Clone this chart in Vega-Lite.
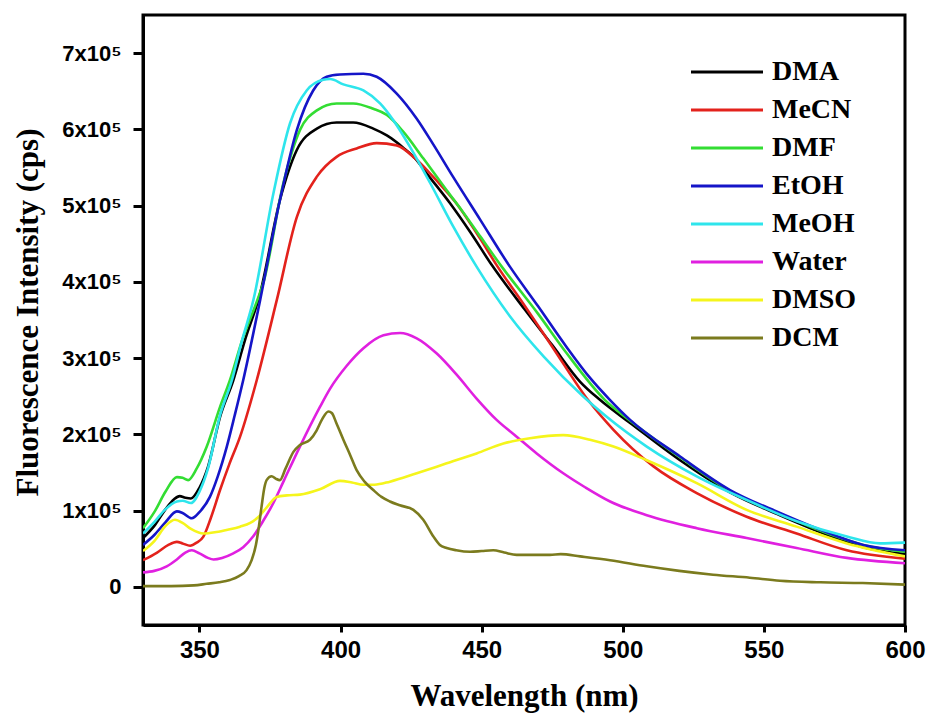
{
  "$schema": "https://vega.github.io/schema/vega-lite/v6.json",
  "width": 762,
  "height": 610,
  "autosize": "none",
  "padding": {"left": 143, "top": 15, "right": 22, "bottom": 88},
  "background": "white",
  "data": {"values": [
    {"s":"DMA","w":330,"v":64000},{"s":"DMA","w":334,"v":80000},{"s":"DMA","w":338,"v":102000},{"s":"DMA","w":341,"v":115000},{"s":"DMA","w":343,"v":119000},{"s":"DMA","w":345,"v":117000},{"s":"DMA","w":347,"v":116000},{"s":"DMA","w":350,"v":130000},{"s":"DMA","w":353,"v":157000},{"s":"DMA","w":357.3,"v":223000},{"s":"DMA","w":362,"v":271000},{"s":"DMA","w":366,"v":322000},{"s":"DMA","w":371.5,"v":385000},{"s":"DMA","w":378.5,"v":507000},{"s":"DMA","w":384.5,"v":573000},{"s":"DMA","w":391.6,"v":601000},{"s":"DMA","w":398.6,"v":609000},{"s":"DMA","w":404.5,"v":609000},{"s":"DMA","w":411.6,"v":601000},{"s":"DMA","w":416.4,"v":592000},{"s":"DMA","w":422.2,"v":576000},{"s":"DMA","w":426.4,"v":562000},{"s":"DMA","w":431,"v":540000},{"s":"DMA","w":438.8,"v":503000},{"s":"DMA","w":446,"v":465000},{"s":"DMA","w":453.6,"v":422000},{"s":"DMA","w":465,"v":365000},{"s":"DMA","w":475,"v":317000},{"s":"DMA","w":484.9,"v":269000},{"s":"DMA","w":492,"v":245000},{"s":"DMA","w":502.6,"v":215000},{"s":"DMA","w":520.3,"v":166000},{"s":"DMA","w":538,"v":124000},{"s":"DMA","w":555.7,"v":94000},{"s":"DMA","w":573.4,"v":67000},{"s":"DMA","w":585.2,"v":52000},{"s":"DMA","w":600,"v":43000},

    {"s":"MeCN","w":330,"v":35000},{"s":"MeCN","w":335,"v":45000},{"s":"MeCN","w":339,"v":55000},{"s":"MeCN","w":342,"v":59000},{"s":"MeCN","w":344,"v":57000},{"s":"MeCN","w":346.7,"v":54000},{"s":"MeCN","w":349,"v":58000},{"s":"MeCN","w":351.4,"v":66000},{"s":"MeCN","w":354,"v":90000},{"s":"MeCN","w":357.3,"v":127000},{"s":"MeCN","w":360.5,"v":160000},{"s":"MeCN","w":364.4,"v":197000},{"s":"MeCN","w":370.3,"v":271000},{"s":"MeCN","w":377.4,"v":376000},{"s":"MeCN","w":384.5,"v":485000},{"s":"MeCN","w":391.6,"v":538000},{"s":"MeCN","w":398.6,"v":564000},{"s":"MeCN","w":405.7,"v":575000},{"s":"MeCN","w":412.8,"v":582000},{"s":"MeCN","w":419.9,"v":579000},{"s":"MeCN","w":426.4,"v":562000},{"s":"MeCN","w":431,"v":545000},{"s":"MeCN","w":434,"v":533000},{"s":"MeCN","w":440.6,"v":505000},{"s":"MeCN","w":449.4,"v":457000},{"s":"MeCN","w":455.3,"v":422000},{"s":"MeCN","w":465,"v":370000},{"s":"MeCN","w":475,"v":315000},{"s":"MeCN","w":487.7,"v":245000},{"s":"MeCN","w":496.7,"v":206000},{"s":"MeCN","w":510.9,"v":158000},{"s":"MeCN","w":526.2,"v":123000},{"s":"MeCN","w":543.9,"v":92000},{"s":"MeCN","w":561.6,"v":70000},{"s":"MeCN","w":579.4,"v":48000},{"s":"MeCN","w":600,"v":37000},

    {"s":"DMF","w":330,"v":77000},{"s":"DMF","w":334,"v":98000},{"s":"DMF","w":338,"v":125000},{"s":"DMF","w":342,"v":144000},{"s":"DMF","w":344,"v":143000},{"s":"DMF","w":346,"v":140000},{"s":"DMF","w":349,"v":155000},{"s":"DMF","w":352.6,"v":184000},{"s":"DMF","w":357.3,"v":236000},{"s":"DMF","w":360.8,"v":271000},{"s":"DMF","w":365,"v":322000},{"s":"DMF","w":370.5,"v":376000},{"s":"DMF","w":372.6,"v":398000},{"s":"DMF","w":379.7,"v":529000},{"s":"DMF","w":385.6,"v":599000},{"s":"DMF","w":391.6,"v":625000},{"s":"DMF","w":398.6,"v":634000},{"s":"DMF","w":404.5,"v":634000},{"s":"DMF","w":411.6,"v":627000},{"s":"DMF","w":416.4,"v":619000},{"s":"DMF","w":422.2,"v":597000},{"s":"DMF","w":429.3,"v":562000},{"s":"DMF","w":437.6,"v":520000},{"s":"DMF","w":442.9,"v":494000},{"s":"DMF","w":449.4,"v":460000},{"s":"DMF","w":457.1,"v":420000},{"s":"DMF","w":470,"v":358000},{"s":"DMF","w":480,"v":307000},{"s":"DMF","w":493.7,"v":245000},{"s":"DMF","w":502.6,"v":218000},{"s":"DMF","w":520.3,"v":170000},{"s":"DMF","w":538,"v":126000},{"s":"DMF","w":555.7,"v":96000},{"s":"DMF","w":573.4,"v":69000},{"s":"DMF","w":585.2,"v":55000},{"s":"DMF","w":600,"v":46000},

    {"s":"EtOH","w":330,"v":55000},{"s":"EtOH","w":334,"v":68000},{"s":"EtOH","w":338,"v":85000},{"s":"EtOH","w":342,"v":99000},{"s":"EtOH","w":344,"v":97000},{"s":"EtOH","w":347.3,"v":90000},{"s":"EtOH","w":350,"v":98000},{"s":"EtOH","w":353.7,"v":118000},{"s":"EtOH","w":356.5,"v":145000},{"s":"EtOH","w":359.7,"v":184000},{"s":"EtOH","w":362.5,"v":225000},{"s":"EtOH","w":365.5,"v":271000},{"s":"EtOH","w":371.5,"v":376000},{"s":"EtOH","w":378.5,"v":507000},{"s":"EtOH","w":384.5,"v":599000},{"s":"EtOH","w":390.3,"v":651000},{"s":"EtOH","w":395.1,"v":669000},{"s":"EtOH","w":399.8,"v":672000},{"s":"EtOH","w":408.1,"v":673000},{"s":"EtOH","w":412.8,"v":669000},{"s":"EtOH","w":419.9,"v":647000},{"s":"EtOH","w":427,"v":614000},{"s":"EtOH","w":432.9,"v":580000},{"s":"EtOH","w":440,"v":537000},{"s":"EtOH","w":449.4,"v":482000},{"s":"EtOH","w":460,"v":420000},{"s":"EtOH","w":470,"v":368000},{"s":"EtOH","w":480,"v":315000},{"s":"EtOH","w":488.4,"v":274000},{"s":"EtOH","w":495.5,"v":245000},{"s":"EtOH","w":502.6,"v":219000},{"s":"EtOH","w":520.3,"v":171000},{"s":"EtOH","w":538,"v":127000},{"s":"EtOH","w":555.7,"v":97000},{"s":"EtOH","w":573.4,"v":70000},{"s":"EtOH","w":585.2,"v":55000},{"s":"EtOH","w":600,"v":48000},

    {"s":"MeOH","w":330,"v":70000},{"s":"MeOH","w":334,"v":85000},{"s":"MeOH","w":338,"v":102000},{"s":"MeOH","w":342,"v":112000},{"s":"MeOH","w":344,"v":113000},{"s":"MeOH","w":347,"v":110000},{"s":"MeOH","w":350,"v":125000},{"s":"MeOH","w":353,"v":155000},{"s":"MeOH","w":357.3,"v":225000},{"s":"MeOH","w":361.5,"v":271000},{"s":"MeOH","w":365,"v":322000},{"s":"MeOH","w":369.1,"v":376000},{"s":"MeOH","w":376.2,"v":516000},{"s":"MeOH","w":382.1,"v":608000},{"s":"MeOH","w":388,"v":651000},{"s":"MeOH","w":393.9,"v":665000},{"s":"MeOH","w":396.3,"v":666000},{"s":"MeOH","w":401,"v":659000},{"s":"MeOH","w":408.1,"v":651000},{"s":"MeOH","w":414,"v":634000},{"s":"MeOH","w":418.7,"v":612000},{"s":"MeOH","w":424.6,"v":577000},{"s":"MeOH","w":431.7,"v":530000},{"s":"MeOH","w":440,"v":472000},{"s":"MeOH","w":448.2,"v":420000},{"s":"MeOH","w":460,"v":355000},{"s":"MeOH","w":472,"v":302000},{"s":"MeOH","w":485.9,"v":250000},{"s":"MeOH","w":494.3,"v":223000},{"s":"MeOH","w":508.5,"v":184000},{"s":"MeOH","w":526.2,"v":145000},{"s":"MeOH","w":543.9,"v":114000},{"s":"MeOH","w":561.6,"v":86000},{"s":"MeOH","w":579.4,"v":66000},{"s":"MeOH","w":591.2,"v":57000},{"s":"MeOH","w":600,"v":58000},

    {"s":"Water","w":330,"v":19000},{"s":"Water","w":334,"v":21000},{"s":"Water","w":338.4,"v":27000},{"s":"Water","w":342,"v":36000},{"s":"Water","w":345,"v":45000},{"s":"Water","w":347.3,"v":48000},{"s":"Water","w":350,"v":44000},{"s":"Water","w":353,"v":38000},{"s":"Water","w":355,"v":36000},{"s":"Water","w":358,"v":38000},{"s":"Water","w":362,"v":44000},{"s":"Water","w":365.5,"v":52000},{"s":"Water","w":369,"v":66000},{"s":"Water","w":372.5,"v":86000},{"s":"Water","w":376.2,"v":110000},{"s":"Water","w":380,"v":140000},{"s":"Water","w":385.6,"v":184000},{"s":"Water","w":392.7,"v":236000},{"s":"Water","w":396.3,"v":260000},{"s":"Water","w":402.2,"v":290000},{"s":"Water","w":408.1,"v":313000},{"s":"Water","w":415.2,"v":330000},{"s":"Water","w":421.1,"v":333000},{"s":"Water","w":427,"v":326000},{"s":"Water","w":434.1,"v":306000},{"s":"Water","w":441.2,"v":278000},{"s":"Water","w":448.2,"v":247000},{"s":"Water","w":455.3,"v":219000},{"s":"Water","w":462.4,"v":197000},{"s":"Water","w":469.5,"v":175000},{"s":"Water","w":478.9,"v":149000},{"s":"Water","w":486.5,"v":131000},{"s":"Water","w":495.5,"v":112000},{"s":"Water","w":508.5,"v":94000},{"s":"Water","w":526.2,"v":77000},{"s":"Water","w":543.9,"v":64000},{"s":"Water","w":561.6,"v":51000},{"s":"Water","w":579.4,"v":38000},{"s":"Water","w":600,"v":31000},

    {"s":"DMSO","w":330,"v":47000},{"s":"DMSO","w":334,"v":60000},{"s":"DMSO","w":338,"v":80000},{"s":"DMSO","w":341.3,"v":88000},{"s":"DMSO","w":344,"v":84000},{"s":"DMSO","w":347,"v":76000},{"s":"DMSO","w":351.4,"v":70000},{"s":"DMSO","w":356,"v":72000},{"s":"DMSO","w":360,"v":75000},{"s":"DMSO","w":364.4,"v":79000},{"s":"DMSO","w":368,"v":84000},{"s":"DMSO","w":371,"v":92000},{"s":"DMSO","w":374,"v":105000},{"s":"DMSO","w":377.4,"v":118000},{"s":"DMSO","w":381,"v":120000},{"s":"DMSO","w":385.6,"v":121000},{"s":"DMSO","w":392.7,"v":128000},{"s":"DMSO","w":399.8,"v":139000},{"s":"DMSO","w":404,"v":137000},{"s":"DMSO","w":408.1,"v":134000},{"s":"DMSO","w":412,"v":134000},{"s":"DMSO","w":417.5,"v":138000},{"s":"DMSO","w":427,"v":149000},{"s":"DMSO","w":437.6,"v":162000},{"s":"DMSO","w":448.2,"v":175000},{"s":"DMSO","w":457.7,"v":188000},{"s":"DMSO","w":467.1,"v":195000},{"s":"DMSO","w":478.9,"v":199000},{"s":"DMSO","w":488.4,"v":193000},{"s":"DMSO","w":496.7,"v":184000},{"s":"DMSO","w":508.5,"v":166000},{"s":"DMSO","w":526.2,"v":136000},{"s":"DMSO","w":543.9,"v":101000},{"s":"DMSO","w":561.6,"v":79000},{"s":"DMSO","w":579.4,"v":57000},{"s":"DMSO","w":600,"v":40000},

    {"s":"DCM","w":330,"v":1000},{"s":"DCM","w":340,"v":1000},{"s":"DCM","w":348,"v":2000},{"s":"DCM","w":352.6,"v":4000},{"s":"DCM","w":357,"v":6000},{"s":"DCM","w":360.8,"v":9000},{"s":"DCM","w":364,"v":14000},{"s":"DCM","w":366.7,"v":22000},{"s":"DCM","w":368.5,"v":35000},{"s":"DCM","w":370,"v":55000},{"s":"DCM","w":370.9,"v":75000},{"s":"DCM","w":372,"v":105000},{"s":"DCM","w":373,"v":130000},{"s":"DCM","w":373.8,"v":140000},{"s":"DCM","w":375.6,"v":145000},{"s":"DCM","w":377,"v":142000},{"s":"DCM","w":378.5,"v":140000},{"s":"DCM","w":380.5,"v":155000},{"s":"DCM","w":383.3,"v":177000},{"s":"DCM","w":385.6,"v":186000},{"s":"DCM","w":389.2,"v":193000},{"s":"DCM","w":391.5,"v":205000},{"s":"DCM","w":393.5,"v":220000},{"s":"DCM","w":395.7,"v":230000},{"s":"DCM","w":396.9,"v":228000},{"s":"DCM","w":398.5,"v":215000},{"s":"DCM","w":401,"v":193000},{"s":"DCM","w":403.5,"v":172000},{"s":"DCM","w":405.7,"v":153000},{"s":"DCM","w":408.5,"v":138000},{"s":"DCM","w":411.6,"v":127000},{"s":"DCM","w":414.5,"v":118000},{"s":"DCM","w":417.5,"v":112000},{"s":"DCM","w":421,"v":107000},{"s":"DCM","w":425.8,"v":101000},{"s":"DCM","w":429.3,"v":88000},{"s":"DCM","w":432.9,"v":66000},{"s":"DCM","w":435.2,"v":55000},{"s":"DCM","w":437.6,"v":51000},{"s":"DCM","w":441,"v":48000},{"s":"DCM","w":445.9,"v":46000},{"s":"DCM","w":450,"v":47000},{"s":"DCM","w":454.1,"v":48000},{"s":"DCM","w":458,"v":45000},{"s":"DCM","w":462.4,"v":42000},{"s":"DCM","w":474.2,"v":42000},{"s":"DCM","w":478,"v":43000},{"s":"DCM","w":484.9,"v":40000},{"s":"DCM","w":495.5,"v":35000},{"s":"DCM","w":508.5,"v":27000},{"s":"DCM","w":520,"v":21000},{"s":"DCM","w":532,"v":16000},{"s":"DCM","w":545,"v":12000},{"s":"DCM","w":555.7,"v":8000},{"s":"DCM","w":570,"v":6000},{"s":"DCM","w":585,"v":5000},{"s":"DCM","w":600,"v":3000}
  ]},
  "mark": {"type": "line", "interpolate": "monotone", "strokeWidth": 2.6, "clip": true},
  "encoding": {
    "x": {
      "field": "w", "type": "quantitative",
      "scale": {"domain": [330, 600], "nice": false, "zero": false},
      "axis": {
        "title": "Wavelength (nm)",
        "values": [350, 400, 450, 500, 550, 600],
        "format": "d",
        "grid": false,
        "domainColor": "black", "domainWidth": 3,
        "tickColor": "black", "tickWidth": 3, "tickSize": 7,
        "labelFont": "Liberation Sans", "labelFontWeight": "bold", "labelFontSize": 24, "labelColor": "black",
        "labelPadding": 6, "labelFlush": false,
        "titleFont": "Liberation Serif", "titleFontWeight": "bold", "titleFontSize": 31, "titleColor": "black",
        "titleBaseline": "alphabetic", "titleY": 80
      }
    },
    "y": {
      "field": "v", "type": "quantitative",
      "scale": {"domain": [-50000, 750000], "nice": false, "zero": false},
      "axis": {
        "title": "Fluorescence Intensity (cps)",
        "values": [0, 100000, 200000, 300000, 400000, 500000, 600000, 700000],
        "labelExpr": "datum.value == 0 ? '0' : format(datum.value / 100000, 'd') + 'x10⁵'",
        "grid": false,
        "domainColor": "black", "domainWidth": 3,
        "tickColor": "black", "tickWidth": 3, "tickSize": 10,
        "labelFont": "Liberation Sans", "labelFontWeight": "bold", "labelFontSize": 22, "labelColor": "black",
        "labelPadding": 12,
        "titleFont": "Liberation Serif", "titleFontWeight": "bold", "titleFontSize": 31, "titleColor": "black",
        "titleBaseline": "alphabetic", "titleX": -106, "titleY": 297, "titleAngle": -90, "titleAlign": "center"
      }
    },
    "color": {
      "field": "s", "type": "nominal",
      "scale": {
        "domain": ["DMA", "MeCN", "DMF", "EtOH", "MeOH", "Water", "DMSO", "DCM"],
        "range": ["#000000", "#e3221c", "#33dd33", "#1515c8", "#2ee5ec", "#e020e0", "#f5f51c", "#7b7b1e"]
      },
      "legend": {
        "orient": "none", "legendX": 570, "legendY": 43,
        "title": null,
        "symbolType": "M-3.6,0L3.6,0", "symbolSize": 400, "symbolStrokeWidth": 3,
        "labelFont": "Liberation Serif", "labelFontWeight": "bold", "labelFontSize": 28, "labelColor": "black",
        "rowPadding": 10, "labelOffset": 31, "padding": 0
      }
    }
  },
  "config": {"view": {"stroke": "black", "strokeWidth": 3}}
}
